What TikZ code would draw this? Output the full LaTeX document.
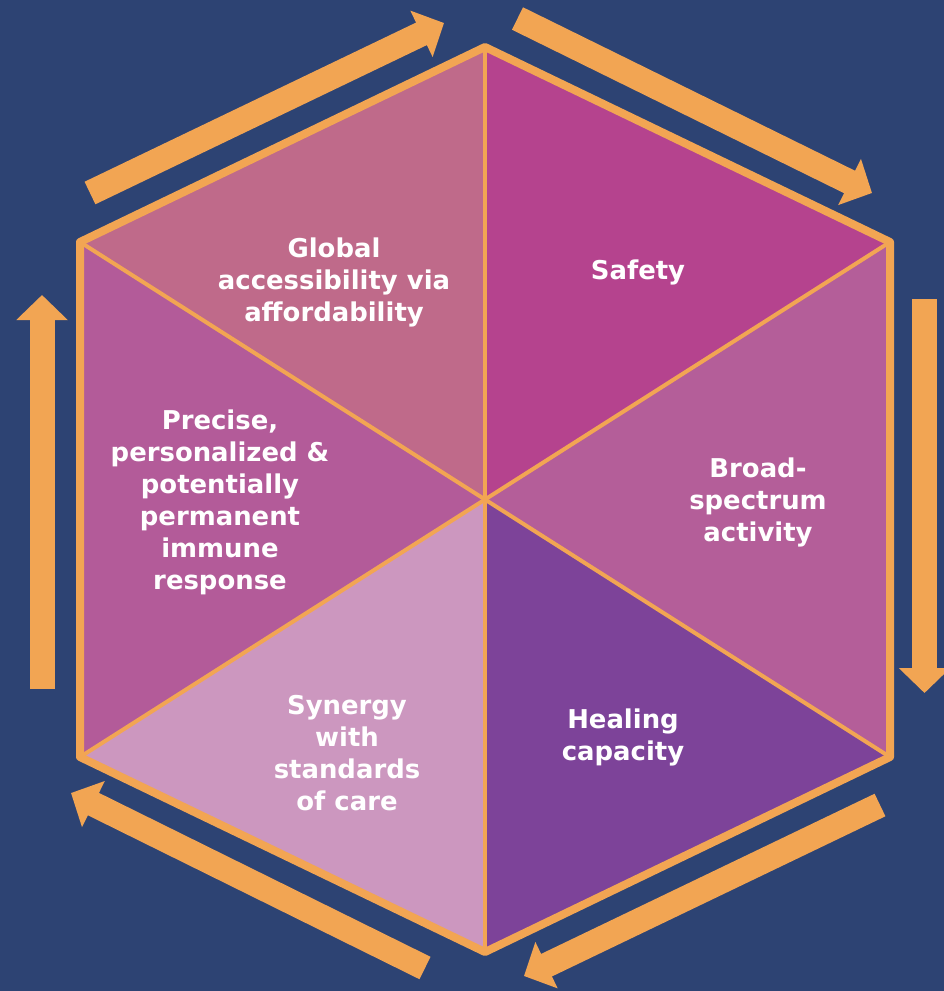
\documentclass[tikz,border=0pt]{standalone}
\usepackage{fontspec}
\setmainfont{DejaVu Sans}
\usetikzlibrary{arrows.meta}
\definecolor{bg}{HTML}{2D4373}
\definecolor{orng}{HTML}{F2A553}
\definecolor{cTL}{HTML}{BF6A8A}
\definecolor{cTR}{HTML}{B5438E}
\definecolor{cR}{HTML}{B45E99}
\definecolor{cBR}{HTML}{7D4399}
\definecolor{cBL}{HTML}{CC97BF}
\definecolor{cL}{HTML}{B35B99}
\tikzset{
  blockarrow/.style={draw=orng, line width=25pt, -{Triangle[width=50pt,length=25pt]}},
  divider/.style={draw=orng, line width=4pt},
  rim/.style={draw=orng, line width=8pt, line join=round},
  lbl/.style={text=white, align=center, font=\bfseries\fontsize{25.9}{32}\selectfont}
}
\begin{document}
\begin{tikzpicture}[x=1pt,y=-1pt]
\fill[bg] (0,0) rectangle (944,991);
\useasboundingbox (0,0) rectangle (944,991);
% hexagon vertices
\coordinate (C) at (485,499.5);
\coordinate (T) at (485,47);
\coordinate (UR) at (890,242);
\coordinate (LR) at (890,757);
\coordinate (B) at (485,952);
\coordinate (LL) at (80,757);
\coordinate (UL) at (80,242);
% triangles
\fill[cTL] (C) -- (UL) -- (T) -- cycle;
\fill[cTR] (C) -- (T) -- (UR) -- cycle;
\fill[cR] (C) -- (UR) -- (LR) -- cycle;
\fill[cBR] (C) -- (LR) -- (B) -- cycle;
\fill[cBL] (C) -- (B) -- (LL) -- cycle;
\fill[cL] (C) -- (LL) -- (UL) -- cycle;
% dividers
\draw[divider] (T) -- (B);
\draw[divider] (UL) -- (LR);
\draw[divider] (UR) -- (LL);
% rim
\draw[rim] (T) -- (UR) -- (LR) -- (B) -- (LL) -- (UL) -- cycle;
% arrows
\coordinate (a1s) at (90,193);   \coordinate (a1e) at (444,23);
\coordinate (a2s) at (517.5,18.5); \coordinate (a2e) at (872,193);
\coordinate (a3s) at (924.5,299); \coordinate (a3e) at (924.5,693);
\coordinate (a4s) at (880,805);  \coordinate (a4e) at (524,976);
\coordinate (a5s) at (425,968);  \coordinate (a5e) at (71,793);
\coordinate (a6s) at (42,689);   \coordinate (a6e) at (42,295);
\draw[blockarrow] (a1s) -- (a1e);
\draw[blockarrow] (a2s) -- (a2e);
\draw[blockarrow] (a3s) -- (a3e);
\draw[blockarrow] (a4s) -- (a4e);
\draw[blockarrow] (a5s) -- (a5e);
\draw[blockarrow] (a6s) -- (a6e);
% labels
\node[lbl] (global) at (334,282.5) {Global\\accessibility via\\affordability};
\node[lbl] (safety) at (638,272.5) {Safety};
\node[lbl] (broad) at (758,502.5) {Broad-\\spectrum\\activity};
\node[lbl] (healing) at (623,737.5) {Healing\\capacity};
\node[lbl] (synergy) at (347,753) {Synergy\\with\\standards\\of care};
\node[lbl] (precise) at (220,502) {Precise,\\personalized \&\\potentially\\permanent\\immune\\response};
\end{tikzpicture}
\end{document}
